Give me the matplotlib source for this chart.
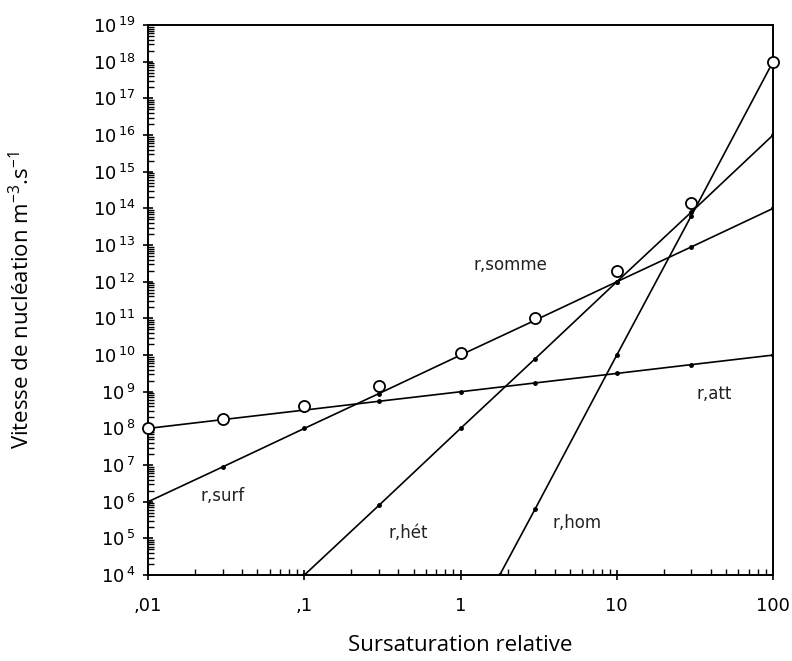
import matplotlib.pyplot as plt
from matplotlib.ticker import LogLocator, NullFormatter, FixedLocator

plt.rcParams["mathtext.default"] = "regular"

# sursaturation relative values where the points sit
x_pts = [0.01, 0.03, 0.1, 0.3, 1, 3, 10, 30, 100]

# (log10 of nucleation rate)
r_att = [8.0, 8.24, 8.5, 8.74, 9.0, 9.24, 9.5, 9.74, 10.0]
r_surf = [6.0, 6.95, 8.0, 8.95, 10.0, 10.95, 12.0, 12.95, 14.0]
het_x = [0.1, 0.3, 1, 3, 10, 30, 100]
r_het = [4.0, 5.9, 8.0, 9.9, 12.0, 13.9, 16.0]
hom_x = [1.78, 3, 10, 30, 100]
r_hom = [4.0, 5.8, 10.0, 13.8, 18.0]
r_somme = [8.0, 8.26, 8.62, 9.16, 10.05, 11.0, 12.3, 14.15, 18.0]

x_ticks = [0.01, 0.1, 1, 10, 100]
x_ticklabels = [",01", ",1", "1", "10", "100"]
y_exps = list(range(4, 20))

fig = plt.figure(figsize=(7.92, 6.61), dpi=100)
ax = fig.add_axes([0.187, 0.130, 0.789, 0.832])

line_kw = dict(color="black", lw=1.2, marker="o", markersize=2.5)

def pow10(vals):
    return [10 ** v for v in vals]

ax.plot(x_pts, pow10(r_att), **line_kw)
ax.plot(x_pts, pow10(r_surf), **line_kw)
ax.plot(het_x, pow10(r_het), **line_kw)
ax.plot(hom_x, pow10(r_hom), **line_kw)
ax.plot(x_pts, pow10(r_somme), ls="none", marker="o", markersize=8,
        markerfacecolor="white", markeredgecolor="black", markeredgewidth=1.3,
        clip_on=False, zorder=5)

ax.set_xscale("log")
ax.set_yscale("log")
ax.set_xlim(0.01, 100)
ax.set_ylim(1e4, 1e19)

ax.xaxis.set_major_locator(FixedLocator(x_ticks))
ax.set_xticklabels(x_ticklabels)
ax.yaxis.set_major_locator(FixedLocator([10.0 ** e for e in y_exps]))
ax.set_yticklabels([r"$10^{\,%d}$" % e for e in y_exps])
ax.xaxis.set_minor_locator(LogLocator(base=10, subs=range(2, 10), numticks=20))
ax.yaxis.set_minor_locator(LogLocator(base=10, subs=range(2, 10), numticks=30))
ax.xaxis.set_minor_formatter(NullFormatter())
ax.yaxis.set_minor_formatter(NullFormatter())

ax.tick_params(axis="both", which="major", direction="inout", length=7,
               width=1.2, labelsize=13, pad=6)
ax.tick_params(axis="x", which="major", pad=12)
ax.tick_params(axis="both", which="minor", direction="in", length=4, width=1.0)
ax.tick_params(top=False, right=False)
for s in ax.spines.values():
    s.set_linewidth(1.4)

lab = dict(fontsize=12, color="#222222")
ax.text(2.1, 10 ** 12.45, "r,somme", ha="center", va="center", **lab)
ax.text(42, 10 ** 8.95, "r,att", ha="center", va="center", **lab)
ax.text(0.03, 10 ** 6.15, "r,surf", ha="center", va="center", **lab)
ax.text(0.46, 10 ** 5.14, "r,hét", ha="center", va="center", **lab)
ax.text(5.6, 10 ** 5.42, "r,hom", ha="center", va="center", **lab)

ax.set_xlabel("Sursaturation relative", fontsize=16, family="Open Sans", labelpad=15)
ax.set_ylabel("Vitesse de nucléation m$^{-3}$.s$^{-1}$", fontsize=16,
              family="Open Sans", labelpad=42)

fig.savefig("out.png", dpi=100)
